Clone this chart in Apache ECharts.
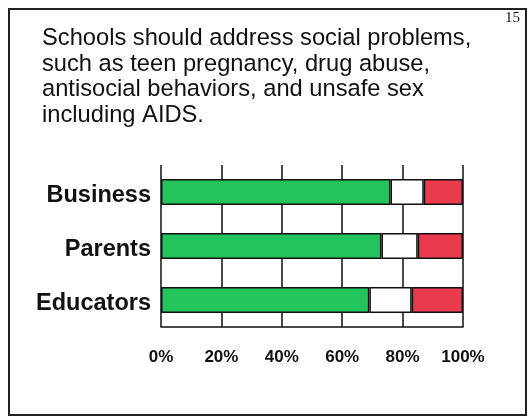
<!DOCTYPE html>
<html>
<head>
<meta charset="utf-8">
<script src="https://cdn.jsdelivr.net/npm/echarts@6/dist/echarts.min.js"></script>
<style>
  html, body { margin: 0; padding: 0; background: #ffffff; }
  #chart { width: 528px; height: 418px; }
</style>
</head>
<body>
<div id="chart"></div>
<script>
// Survey groups, listed top to bottom
const groups = ['Business', 'Parents', 'Educators'];
// Share of each group (percent): agree / neutral / disagree
const agree = [76, 73, 69];
const neutral = [11, 12, 14];
const disagree = [13, 15, 17];
// Percent axis ticks
const tickValues = [0, 20, 40, 60, 80, 100];

const headline = 'Schools should address social problems,\nsuch as teen pregnancy, drug abuse,\nantisocial behaviors, and unsafe sex\nincluding AIDS.';

const chart = echarts.init(document.getElementById('chart'), null, { renderer: 'canvas' });

const barBorder = { borderColor: '#111111', borderWidth: 1.5 };

chart.setOption({
  animation: false,
  backgroundColor: '#ffffff',
  title: [{
    text: headline,
    left: 42,
    top: 26,
    padding: 0,
    textStyle: {
      fontFamily: 'Liberation Sans, Arial, sans-serif',
      fontSize: 23.7,
      fontWeight: 'normal',
      color: '#111111',
      lineHeight: 25.5
    }
  }, {
    text: '15',
    right: 8,
    top: 11,
    padding: 0,
    textStyle: {
      fontFamily: 'Liberation Serif, Times New Roman, serif',
      fontSize: 15,
      fontWeight: 'normal',
      color: '#111111'
    }
  }],
  graphic: [{
    type: 'rect',
    shape: { x: 9, y: 9, width: 517, height: 406 },
    style: { fill: 'none', stroke: '#222222', lineWidth: 2 },
    z: 100
  }],
  grid: { left: 161, right: 65, top: 165, bottom: 91 },
  xAxis: {
    type: 'value',
    min: 0,
    max: 100,
    interval: 20,
    axisLine: { show: true, lineStyle: { color: '#111111', width: 1.5 } },
    axisTick: { show: false },
    splitLine: { show: true, lineStyle: { color: '#111111', width: 1.5 } },
    axisLabel: {
      margin: 22,
      fontFamily: 'Liberation Sans, Arial, sans-serif',
      fontSize: 17,
      fontWeight: 'bold',
      color: '#111111',
      formatter: v => (tickValues.indexOf(v) >= 0 ? v + '%' : '')
    }
  },
  yAxis: {
    type: 'category',
    data: groups,
    inverse: true,
    axisLine: { show: false },
    axisTick: { show: false },
    splitLine: { show: false },
    axisLabel: {
      margin: 10,
      formatter: v => '{g|' + v + '}',
      rich: {
        g: {
          padding: [7, 0, 0, 0],
          fontFamily: 'Liberation Sans, Arial, sans-serif',
          fontSize: 23.5,
          fontWeight: 'bold',
          color: '#111111'
        }
      }
    }
  },
  series: [{
    name: 'Agree',
    type: 'bar',
    stack: 'share',
    barWidth: 26,
    data: agree,
    itemStyle: Object.assign({ color: '#24c45c' }, barBorder)
  }, {
    name: 'Neutral',
    type: 'bar',
    stack: 'share',
    barWidth: 26,
    data: neutral,
    itemStyle: Object.assign({ color: '#ffffff' }, barBorder)
  }, {
    name: 'Disagree',
    type: 'bar',
    stack: 'share',
    barWidth: 26,
    data: disagree,
    itemStyle: Object.assign({ color: '#ea3a4e' }, barBorder)
  }]
});
</script>
</body>
</html>
